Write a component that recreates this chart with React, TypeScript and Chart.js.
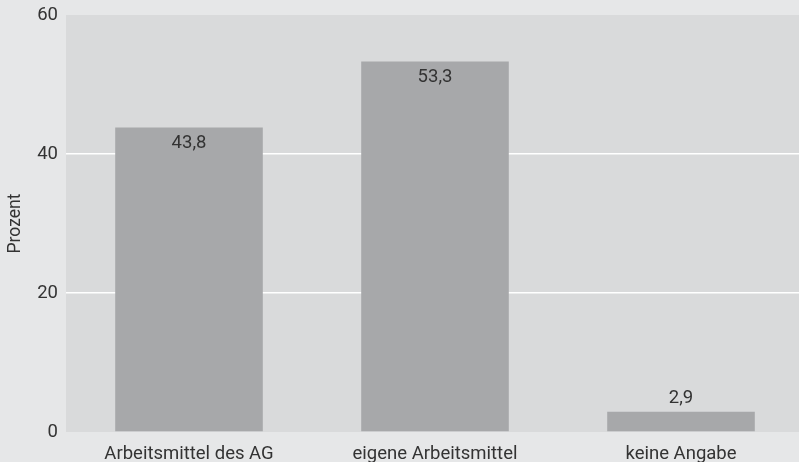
import React, { useEffect, useRef } from "react";
import { Chart, registerables } from "chart.js";

Chart.register(...registerables);

const categories = ["Arbeitsmittel des AG", "eigene Arbeitsmittel", "keine Angabe"];
const values = [43.8, 53.3, 2.9];
const valueLabels = ["43,8", "53,3", "2,9"];
const yTicks = [0, 20, 40, 60];
const yTitle = "Prozent";

const FONT = "Roboto";
const TEXT = "#333333";

const plotBg = {
  id: "plotBg",
  beforeDraw(chart: any) {
    const { ctx, chartArea } = chart;
    ctx.save();
    ctx.fillStyle = "#d9dadb";
    ctx.fillRect(chartArea.left, chartArea.top, chartArea.right - chartArea.left, chartArea.bottom - chartArea.top);
    ctx.restore();
  },
};

const valueLabelPlugin = {
  id: "valueLabels",
  afterDatasetsDraw(chart: any) {
    const { ctx } = chart;
    const meta = chart.getDatasetMeta(0);
    ctx.save();
    ctx.font = `18.5px ${FONT}`;
    ctx.fillStyle = TEXT;
    ctx.textAlign = "center";
    ctx.textBaseline = "middle";
    meta.data.forEach((bar: any, i: number) => {
      const h = bar.base - bar.y;
      const y = h > 40 ? bar.y + 16 : bar.y - 13;
      ctx.fillText(valueLabels[i], bar.x, y);
    });
    ctx.restore();
  },
};

export default function App() {
  const ref = useRef<HTMLCanvasElement>(null);
  useEffect(() => {
    document.body.style.margin = "0";
    const chart = new Chart(ref.current!, {
      type: "bar",
      data: {
        labels: categories,
        datasets: [
          {
            data: values,
            backgroundColor: "#a7a8aa",
            borderWidth: 0,
            categoryPercentage: 1,
            barPercentage: 0.6,
          },
        ],
      },
      options: {
        animation: false,
        responsive: false,
        maintainAspectRatio: false,
        layout: { padding: { top: 15, right: 0, left: 0, bottom: 0 } },
        plugins: { legend: { display: false }, tooltip: { enabled: false } },
        scales: {
          x: {
            grid: { display: false },
            border: { display: false },
            ticks: { color: TEXT, font: { family: FONT, size: 18.5 }, padding: 3, maxRotation: 0 },
            afterFit: (s: any) => {
              s.height = 30;
              s.paddingLeft = 0;
              s.paddingRight = 0;
            },
          },
          y: {
            min: 0,
            max: 60,
            afterBuildTicks: (s: any) => {
              s.ticks = yTicks.map((v) => ({ value: v }));
            },
            grid: {
              drawTicks: false,
              color: (c: any) => (c.tick && (c.tick.value === 20 || c.tick.value === 40) ? "#ffffff" : "rgba(0,0,0,0)"),
              lineWidth: 1.5,
            },
            border: { display: false },
            ticks: { color: TEXT, font: { family: FONT, size: 18.5 }, padding: 8 },
            title: { display: true, text: yTitle, color: TEXT, font: { family: FONT, size: 17.5 }, padding: { top: 5, bottom: 0 } },
            afterFit: (s: any) => {
              s.width = 66;
              s.paddingTop = 0;
              s.paddingBottom = 0;
            },
          },
        },
      },
      plugins: [plotBg, valueLabelPlugin],
    });
    return () => chart.destroy();
  }, []);
  return (
    <div style={{ width: 799, height: 462, background: "#e6e7e8", overflow: "hidden" }}>
      <canvas ref={ref} width={804} height={462} style={{ display: "block" }} />
    </div>
  );
}
